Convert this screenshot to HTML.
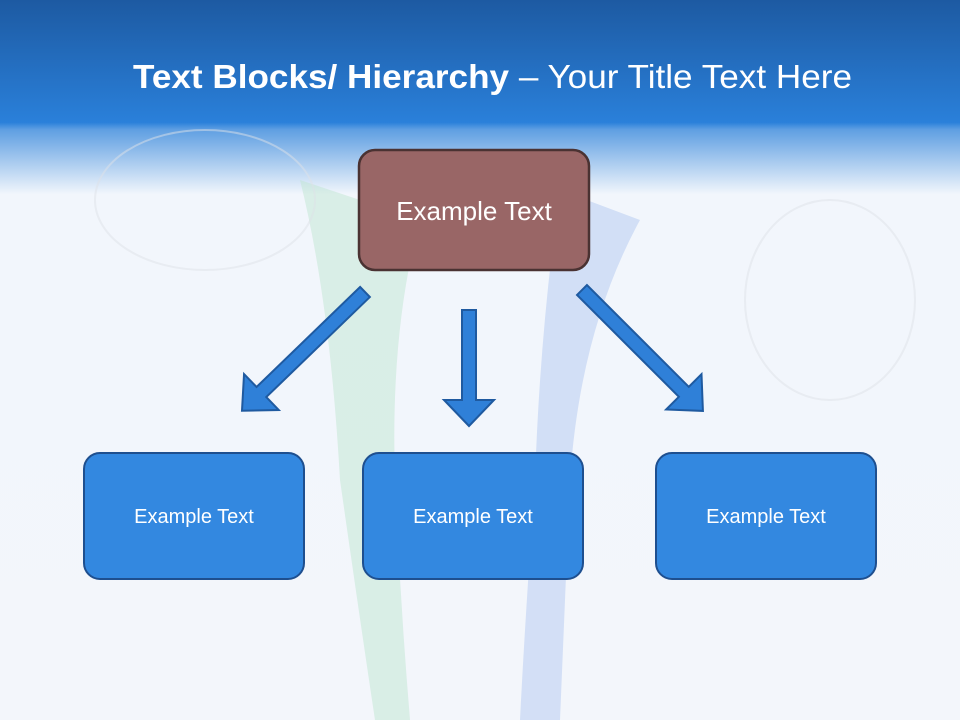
<!DOCTYPE html>
<html><head><style>
body{margin:0;width:960px;height:720px;overflow:hidden;font-family:"Liberation Sans",sans-serif}
</style></head><body>
<svg width="960" height="720" viewBox="0 0 960 720" xmlns="http://www.w3.org/2000/svg">
<defs>
<linearGradient id="bg" x1="0" y1="0" x2="0" y2="1">
<stop offset="0" stop-color="#1d5aa2"/>
<stop offset="0.17" stop-color="#2a80da"/>
<stop offset="0.18" stop-color="#5f9fe2"/>
<stop offset="0.27" stop-color="#f2f6fc"/>
<stop offset="1" stop-color="#f3f6fb"/>
</linearGradient>
</defs>
<rect width="960" height="720" fill="url(#bg)"/>
<path d="M300 180 Q330 300 340 480 Q360 620 375 720 L410 720 Q400 600 395 480 Q390 330 420 220 Z" fill="#bfe6d2" opacity="0.5"/>
<path d="M560 190 Q540 330 535 480 Q525 620 520 720 L560 720 Q565 600 570 480 Q580 330 640 220 Z" fill="#c5d6f4" opacity="0.7"/>
<ellipse cx="205" cy="200" rx="110" ry="70" fill="none" stroke="#dde1e8" stroke-width="2" opacity="0.5"/>
<ellipse cx="830" cy="300" rx="85" ry="100" fill="none" stroke="#dde1e8" stroke-width="2" opacity="0.5"/>
<text x="133" y="88" font-size="33" fill="#fff" textLength="719" lengthAdjust="spacingAndGlyphs"><tspan font-weight="bold">Text Blocks/ Hierarchy</tspan> – Your Title Text Here</text>
<g fill="#2f80d8" stroke="#1f5aa0" stroke-width="2">
<polygon transform="translate(365,292) rotate(46)" points="-7,0 7,0 7,144 25,144 0,171 -25,144 -7,144"/>
<polygon transform="translate(582,290) rotate(-45)" points="-7,0 7,0 7,144 25,144 0,171 -25,144 -7,144"/>
<polygon transform="translate(469,310)" points="-7,0 7,0 7,90 25,90 0,116 -25,90 -7,90"/>
</g>
<rect x="359" y="150" width="230" height="120" rx="16" fill="#996666" stroke="#4a3232" stroke-width="2.5"/>
<text x="474" y="220" font-size="26" fill="#fff" text-anchor="middle">Example Text</text>
<g fill="#3388e0" stroke="#1e4f8f" stroke-width="2">
<rect x="84" y="453" width="220" height="126" rx="16"/>
<rect x="363" y="453" width="220" height="126" rx="16"/>
<rect x="656" y="453" width="220" height="126" rx="16"/>
</g>
<g font-size="20" fill="#fff" text-anchor="middle">
<text x="194" y="523">Example Text</text>
<text x="473" y="523">Example Text</text>
<text x="766" y="523">Example Text</text>
</g>
</svg>
</body></html>
